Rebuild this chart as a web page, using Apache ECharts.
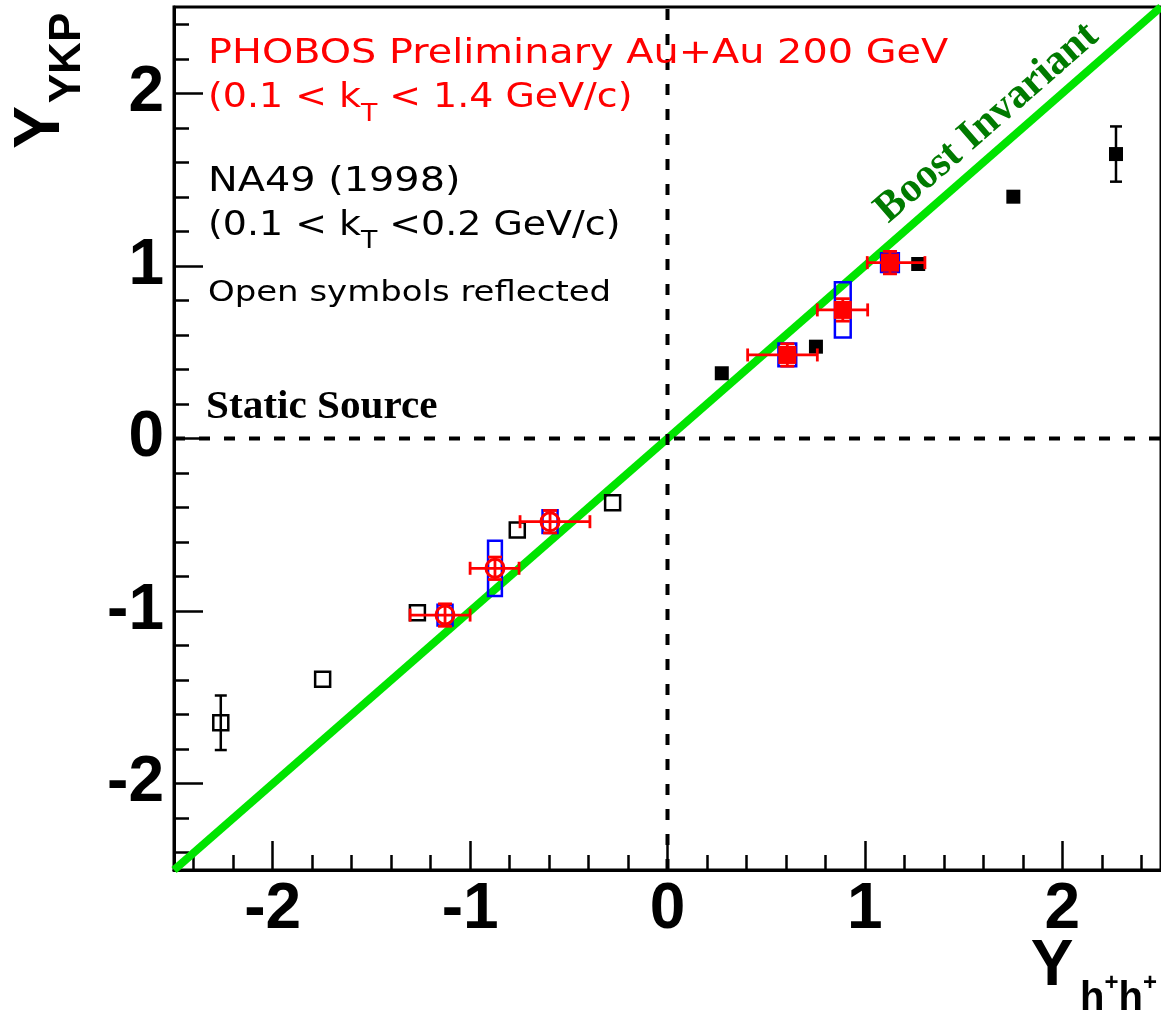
<!DOCTYPE html>
<html><head><meta charset="utf-8">
<script src="https://cdn.jsdelivr.net/npm/echarts@6/dist/echarts.min.js"></script>
<style>html,body{margin:0;padding:0;background:#fff}#c{width:1161px;height:1016px}</style>
</head><body><div id="c"></div>
<script>
// ---- tick values ----
const majorTicks = [-2, -1, 0, 1, 2];
const minorTicks = [-2.4, -2.2, -1.8, -1.6, -1.4, -1.2, -0.8, -0.6, -0.4, -0.2,
                    0.2, 0.4, 0.6, 0.8, 1.2, 1.4, 1.6, 1.8, 2.2, 2.4];
// ---- reference lines ----
const boostLine = [[-2.5, -2.5], [2.5, 2.5]];
const zeroV = [[0, -2.5], [0, 2.5]];
const zeroH = [[-2.5, 0], [2.5, 0]];
// ---- NA49 (1998), measured (filled) ----
const na49X = [0.275, 0.752, 1.27, 1.752, 2.272];
const na49Y = [0.378, 0.532, 1.011, 1.401, 1.648];
const na49Err = [0, 0, 0, 0, 0.16];
// ---- NA49 reflected (open) ----
const na49RefX = [-0.278, -0.761, -1.267, -1.747, -2.263];
const na49RefY = [-0.372, -0.530, -1.009, -1.395, -1.647];
const na49RefErr = [0, 0, 0, 0, 0.158];
// ---- PHOBOS preliminary, measured (filled) ----
const phobosX = [0.607, 0.888, 1.127];
const phobosY = [0.484, 0.745, 1.019];
const phobosXLo = [0.406, 0.759, 1.012];
const phobosXHi = [0.759, 1.014, 1.304];
const phobosYErr = [0.065, 0.065, 0.065];
const phobosSysX = [0.045, 0.04, 0.045];
const phobosSysY = [0.066, 0.16, 0.055];
// ---- PHOBOS reflected (open) ----
const phobosRefX = [-0.595, -0.874, -1.127];
const phobosRefY = [-0.482, -0.752, -1.023];
const phobosRefXLo = [-0.747, -1.0, -1.304];
const phobosRefXHi = [-0.393, -0.752, -1.0];
const phobosRefYErr = [0.065, 0.065, 0.065];
const phobosRefSysX = [0.038, 0.035, 0.038];
const phobosRefSysY = [0.066, 0.16, 0.06];

const zip = (...a) => a[0].map((_, i) => a.map(arr => arr[i]));

function blackErr(params, api) {
  const x = api.value(0), y = api.value(1), e = api.value(2);
  if (!e) return null;
  const t = api.coord([x, y + e]), b = api.coord([x, y - e]);
  const st = {stroke: '#000', lineWidth: 2.5};
  const w = 6;
  return {type: 'group', children: [
    {type: 'line', shape: {x1: t[0], y1: t[1], x2: b[0], y2: b[1]}, style: st},
    {type: 'line', shape: {x1: t[0] - w, y1: t[1], x2: t[0] + w, y2: t[1]}, style: st},
    {type: 'line', shape: {x1: b[0] - w, y1: b[1], x2: b[0] + w, y2: b[1]}, style: st}
  ]};
}
function redErr(params, api) {
  const x = api.value(0), y = api.value(1), lo = api.value(2), hi = api.value(3), ye = api.value(4);
  const pL = api.coord([lo, y]), pR = api.coord([hi, y]);
  const pT = api.coord([x, y + ye]), pB = api.coord([x, y - ye]);
  const st = {stroke: '#ff0000', lineWidth: 2.8};
  const c = 6.5, w = 7;
  return {type: 'group', children: [
    {type: 'line', shape: {x1: pL[0], y1: pL[1], x2: pR[0], y2: pR[1]}, style: st},
    {type: 'line', shape: {x1: pL[0], y1: pL[1] - c, x2: pL[0], y2: pL[1] + c}, style: st},
    {type: 'line', shape: {x1: pR[0], y1: pR[1] - c, x2: pR[0], y2: pR[1] + c}, style: st},
    {type: 'line', shape: {x1: pT[0], y1: pT[1], x2: pB[0], y2: pB[1]}, style: st},
    {type: 'line', shape: {x1: pT[0] - w, y1: pT[1], x2: pT[0] + w, y2: pT[1]}, style: st},
    {type: 'line', shape: {x1: pB[0] - w, y1: pB[1], x2: pB[0] + w, y2: pB[1]}, style: st}
  ]};
}
function sysBox(params, api) {
  const x = api.value(0), y = api.value(1), hw = api.value(2), hh = api.value(3);
  const a = api.coord([x - hw, y + hh]), b = api.coord([x + hw, y - hh]);
  return {type: 'rect', shape: {x: a[0], y: a[1], width: b[0] - a[0], height: b[1] - a[1]},
          style: {fill: 'none', stroke: '#0000ff', lineWidth: 2.5}};
}

const tickFont = {fontSize: 64, fontWeight: 'bold', fontFamily: 'Liberation Sans', color: '#000'};
const chart = echarts.init(document.getElementById('c'), null, {renderer: 'canvas'});
const gridPos = {left: 174, top: 7, right: 0, bottom: 146};

chart.setOption({
  animation: false,
  backgroundColor: '#fff',
  grid: [
    Object.assign({show: true, borderColor: '#000', borderWidth: 3, backgroundColor: 'transparent'}, gridPos),
    Object.assign({show: false}, gridPos)
  ],
  xAxis: [
    {type: 'value', gridIndex: 0, min: -2.5, max: 2.5,
     axisLine: {show: true, onZero: false, lineStyle: {color: '#000', width: 3}},
     axisTick: {show: true, inside: true, length: 29, customValues: majorTicks, lineStyle: {color: '#000', width: 2.5}},
     axisLabel: Object.assign({show: true, margin: 8, customValues: majorTicks}, tickFont),
     splitLine: {show: false}},
    {type: 'value', gridIndex: 1, min: -2.5, max: 2.5,
     axisLine: {show: false, onZero: false},
     axisTick: {show: true, inside: true, length: 15, customValues: minorTicks, lineStyle: {color: '#000', width: 2.5}},
     axisLabel: {show: false}, splitLine: {show: false}}
  ],
  yAxis: [
    {type: 'value', gridIndex: 0, min: -2.5, max: 2.5,
     axisLine: {show: true, onZero: false, lineStyle: {color: '#000', width: 3}},
     axisTick: {show: true, inside: true, length: 29, customValues: majorTicks, lineStyle: {color: '#000', width: 2.5}},
     axisLabel: Object.assign({show: true, margin: 10, customValues: majorTicks}, tickFont),
     splitLine: {show: false}},
    {type: 'value', gridIndex: 1, min: -2.5, max: 2.5,
     axisLine: {show: false, onZero: false},
     axisTick: {show: true, inside: true, length: 15, customValues: minorTicks, lineStyle: {color: '#000', width: 2.5}},
     axisLabel: {show: false}, splitLine: {show: false}}
  ],
  series: [
    {name: 'Boost Invariant', type: 'line', data: boostLine, symbol: 'none', z: 1,
     lineStyle: {color: '#00e400', width: 8}, silent: true},
    {name: 'x=0', type: 'line', data: zeroV, symbol: 'none', z: 2,
     lineStyle: {color: '#000', width: 4, type: [11, 14]}, silent: true},
    {name: 'y=0', type: 'line', data: zeroH, symbol: 'none', z: 2,
     lineStyle: {color: '#000', width: 4, type: [11, 14]}, silent: true},
    {name: 'NA49 err', type: 'custom', renderItem: blackErr, z: 3,
     data: zip(na49X, na49Y, na49Err).concat(zip(na49RefX, na49RefY, na49RefErr)),
     encode: {x: 0, y: 1}},
    {name: 'NA49', type: 'scatter', symbol: 'rect', symbolSize: 14, z: 4,
     itemStyle: {color: '#000', opacity: 1}, data: zip(na49X, na49Y)},
    {name: 'NA49 reflected', type: 'scatter', symbol: 'rect', symbolSize: 15, z: 4,
     itemStyle: {color: 'rgba(0,0,0,0)', borderColor: '#000', borderWidth: 2.5, opacity: 1}, data: zip(na49RefX, na49RefY)},
    {name: 'PHOBOS sys', type: 'custom', renderItem: sysBox, z: 5,
     data: zip(phobosX, phobosY, phobosSysX, phobosSysY).concat(zip(phobosRefX, phobosRefY, phobosRefSysX, phobosRefSysY)),
     encode: {x: 0, y: 1}},
    {name: 'PHOBOS err', type: 'custom', renderItem: redErr, z: 6,
     data: zip(phobosX, phobosY, phobosXLo, phobosXHi, phobosYErr).concat(zip(phobosRefX, phobosRefY, phobosRefXLo, phobosRefXHi, phobosRefYErr)),
     encode: {x: [0, 2, 3], y: 1}},
    {name: 'PHOBOS', type: 'scatter', symbol: 'rect', symbolSize: 18, z: 7,
     itemStyle: {color: '#ff0000', opacity: 1}, data: zip(phobosX, phobosY)},
    {name: 'PHOBOS reflected', type: 'scatter', symbol: 'circle', symbolSize: 18, z: 7,
     itemStyle: {color: 'rgba(0,0,0,0)', borderColor: '#ff0000', borderWidth: 3, opacity: 1}, data: zip(phobosRefX, phobosRefY)}
  ],
  graphic: [
    {type: 'text', x: 208, y: 54.5, scaleX: 1.17, z: 100,
     style: {text: 'PHOBOS Preliminary Au+Au 200 GeV', fontSize: 34, fontFamily: 'DejaVu Sans', fill: '#ff0000',
             align: 'left', verticalAlign: 'middle'}},
    {type: 'text', x: 208, y: 98.5, scaleX: 1.115, z: 100,
     style: {text: '(0.1 < k{s|T} < 1.4 GeV/c)', fontSize: 34, fontFamily: 'DejaVu Sans', fill: '#ff0000',
             align: 'left', verticalAlign: 'middle',
             rich: {s: {fontSize: 24, lineHeight: 24, padding: [32, 0, 0, 0], fontFamily: 'DejaVu Sans', fill: '#ff0000'}}}},
    {type: 'text', x: 208, y: 182.5, scaleX: 1.17, z: 100,
     style: {text: 'NA49 (1998)', fontSize: 34, fontFamily: 'DejaVu Sans', fill: '#000',
             align: 'left', verticalAlign: 'middle'}},
    {type: 'text', x: 208, y: 226, scaleX: 1.115, z: 100,
     style: {text: '(0.1 < k{s|T} <0.2 GeV/c)', fontSize: 34, fontFamily: 'DejaVu Sans', fill: '#000',
             align: 'left', verticalAlign: 'middle',
             rich: {s: {fontSize: 24, lineHeight: 24, padding: [32, 0, 0, 0], fontFamily: 'DejaVu Sans', fill: '#000'}}}},
    {type: 'text', x: 208, y: 293, scaleX: 1.17, z: 100,
     style: {text: 'Open symbols reflected', fontSize: 29, fontFamily: 'DejaVu Sans', fill: '#000',
             align: 'left', verticalAlign: 'middle'}},
    {type: 'text', x: 206, y: 408, scaleX: 1.03, z: 100,
     style: {text: 'Static Source', fontSize: 40, fontWeight: 'bold', fontFamily: 'Liberation Serif', fill: '#000',
             align: 'left', verticalAlign: 'middle'}},
    {type: 'text', x: 987, y: 123, rotation: 0.719, z: 100,
     style: {text: 'Boost Invariant', fontSize: 42, fontWeight: 'bold', fontFamily: 'Liberation Serif', fill: '#007a00',
             align: 'center', verticalAlign: 'middle'}},
    {type: 'text', x: 41.5, y: 127.5, rotation: Math.PI / 2, z: 100,
     style: {text: 'Y', fontSize: 64, fontWeight: 'bold', fontFamily: 'Liberation Sans', fill: '#000',
             align: 'center', verticalAlign: 'middle'}},
    {type: 'text', x: 68, y: 58, rotation: Math.PI / 2, z: 100,
     style: {text: 'YKP', fontSize: 44, fontWeight: 'bold', fontFamily: 'Liberation Sans', fill: '#000',
             align: 'center', verticalAlign: 'middle'}},
    {type: 'text', x: 1052, y: 967, z: 100,
     style: {text: 'Y', fontSize: 64, fontWeight: 'bold', fontFamily: 'Liberation Sans', fill: '#000',
             align: 'center', verticalAlign: 'middle'}},
    {type: 'text', x: 1080, y: 999, z: 100,
     style: {text: '{h|h}{p|+}{h|h}{p|+}', fontSize: 40, fontWeight: 'bold', fontFamily: 'Liberation Sans', fill: '#000',
             align: 'left', verticalAlign: 'middle',
             rich: {h: {fontSize: 40, fontWeight: 'bold', fontFamily: 'Liberation Sans', fill: '#000'},
                    p: {fontSize: 24, lineHeight: 24, fontWeight: 'bold', padding: [0, 0, 32, 0], fontFamily: 'Liberation Sans', fill: '#000'}}}}
  ]
});
</script></body></html>
